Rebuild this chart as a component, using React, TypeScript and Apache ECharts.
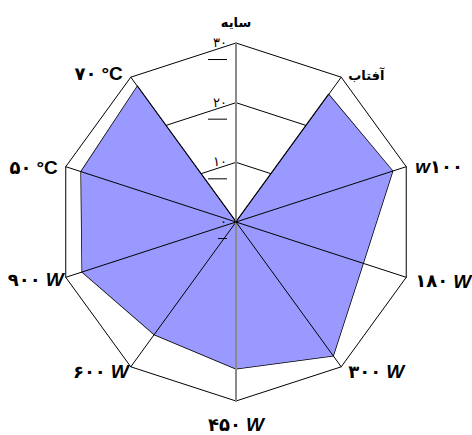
import React, { useEffect, useRef } from "react";
import * as echarts from "echarts";

// Indicators in ECharts order (counter-clockwise from the top)
const indicatorNames = [
  "سایه",
  "۷۰ °C",
  "۵۰ °C",
  "۹۰۰ W",
  "۶۰۰ W",
  "۴۵۰ W",
  "۳۰۰ W",
  "۱۸۰ W",
  "w۱۰۰",
  "آفتاب",
];
const seriesValues = [0, 28.1, 27.3, 27.1, 23.3, 24.6, 27.7, 22.4, 27.6, 26.4];
const axisMin = 0;
const axisMax = 30;
const axisInterval = 10;
const tickLabels: Record<number, string> = { 0: "۰", 10: "۱۰", 20: "۲۰", 30: "۳۰" };

const FONT = "'Liberation Sans', 'DejaVu Sans', Arial, sans-serif";

// label nudges (padding top, right, bottom, left) per indicator name, layout only
const namePad: number[][] = [
  [0, 0, 14, 0],
  [0, 8, 7, 0],
  [2, 8, 0, 0],
  [5, 2, 0, 0],
  [10, 2, 0, 0],
  [14, 0, 0, 0],
  [10, 0, 0, 7],
  [8, 0, 0, 9],
  [0, 0, 0, 9],
  [0, 0, 4, 7],
];

type Tok = { kind: string; text: string };
function splitName(name: string): Tok[] {
  if (!/[\u06F0-\u06F9A-Za-z]/.test(name)) return [{ kind: "a", text: name }];
  return name
    .split(/([A-Za-z°]+)/)
    .filter((s) => s.length > 0)
    .map((s) => ({ kind: /[A-Za-z°]/.test(s) ? (s === "°C" ? "c" : "u") : "n", text: s }));
}

const baseStyle: Record<string, any> = {
  a: { fontFamily: FONT, fontWeight: "bold", fontSize: 13, color: "#000" },
  n: { fontFamily: FONT, fontWeight: "bold", fontSize: 18, color: "#000" },
  u: { fontFamily: FONT, fontWeight: "bold", fontStyle: "italic", fontSize: 19, color: "#000" },
  c: { fontFamily: FONT, fontWeight: "bold", fontSize: 19, color: "#000" },
};

const nameRich: Record<string, any> = {};
indicatorNames.forEach((nm, i) => {
  const toks = splitName(nm);
  const p = namePad[i];
  toks.forEach((t, j) => {
    const pad = [p[0], j === toks.length - 1 ? p[1] : 0, p[2], j === 0 ? p[3] : 0];
    nameRich[`t${i}_${j}`] = { ...baseStyle[t.kind], padding: pad };
  });
});

function fmtName(name: string): string {
  const i = indicatorNames.indexOf(name);
  return splitName(name)
    .map((t, j) => `{t${i}_${j}|${t.text}}`)
    .join("");
}

export default function App() {
  const ref = useRef<HTMLDivElement>(null);
  useEffect(() => {
    if (!ref.current) return;
    const chart = echarts.init(ref.current, undefined, { renderer: "svg" });
    const grayIdx = [0, 5];
    const baseIndicators = indicatorNames.map((n) => ({ name: n, min: axisMin, max: axisMax }));
    const topIndicators = indicatorNames.map((n, i) => ({
      name: n,
      min: axisMin,
      max: axisMax,
      axisLine: grayIdx.includes(i)
        ? { lineStyle: { color: "#8a8a8a", width: 2 } }
        : { lineStyle: { color: "#000", width: 1 } },
      axisLabel: i === 0 ? { show: true } : { show: false },
    }));
    chart.setOption({
      animation: false,
      backgroundColor: "#fff",
      radar: [
        {
          center: [236, 222],
          radius: 179,
          shape: "polygon",
          splitNumber: (axisMax - axisMin) / axisInterval,
          startAngle: 90,
          indicator: baseIndicators,
          nameGap: 0,
          axisName: {
            formatter: (v: string) => fmtName(v),
            rich: nameRich,
          },
          axisLine: { show: false },
          axisTick: { show: false },
          axisLabel: { show: false },
          splitLine: { lineStyle: { color: "#000", width: 1 } },
          splitArea: { show: false },
          z: 0,
        },
        {
          center: [236, 222],
          radius: 179,
          shape: "polygon",
          splitNumber: (axisMax - axisMin) / axisInterval,
          startAngle: 90,
          indicator: topIndicators,
          axisName: { show: false },
          axisLine: { show: true, lineStyle: { color: "#000", width: 1 } },
          axisTick: { show: false },
          axisLabel: {
            show: false,
            margin: 9,
            verticalAlign: "middle",
            padding: [5, 0, 0, 0],
            formatter: (v: number) =>
              `{v|${tickLabels[v] ?? ""}}\n${v === 0 ? "{s| }" : "{d| }"}`,
            rich: {
              v: { fontFamily: FONT, fontSize: 13, color: "#000", lineHeight: 28, align: "right" },
              d: { width: 19, height: 1, backgroundColor: "#000", lineHeight: 6, align: "right" },
              s: { width: 9, height: 1, backgroundColor: "#000", lineHeight: 6, align: "right" },
            },
          },
          splitLine: { show: false },
          splitArea: { show: false },
          z: 10,
        },
      ],
      series: [
        {
          type: "radar",
          radarIndex: 0,
          z: 5,
          symbol: "none",
          data: [
            {
              value: seriesValues,
              lineStyle: { color: "#000", width: 1.5 },
              areaStyle: { color: "#9999ff", opacity: 1 },
            },
          ],
        },
      ],
    });
    return () => chart.dispose();
  }, []);
  return <div ref={ref} style={{ position: "absolute", left: 0, top: 0, width: 472, height: 435 }} />;
}
